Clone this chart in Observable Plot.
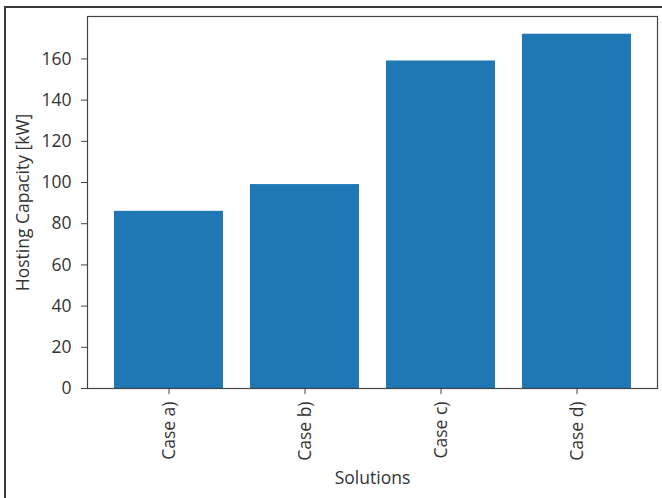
<!DOCTYPE html>
<html>
<head>
<meta charset="utf-8">
<script src="https://cdn.jsdelivr.net/npm/d3@7"></script>
<script src="https://cdn.jsdelivr.net/npm/@observablehq/plot@0.6"></script>
<style>
  html, body { margin: 0; padding: 0; background: #fff; }
  #wrap { position: relative; width: 662px; height: 498px; overflow: hidden; }
  #border { position: absolute; left: 4px; top: 6px; width: 700px; height: 600px;
            border-left: 2px solid #3a3a3a; border-top: 2px solid #3a3a3a; box-sizing: border-box; }
  #chart { position: absolute; left: 0; top: 0; }
</style>
</head>
<body>
<div id="wrap"><div id="chart"></div><div id="border"></div></div>
<script>
const categories = ["Case a)", "Case b)", "Case c)", "Case d)"];
const values = [86, 99, 159, 172];
const yTicks = [0, 20, 40, 60, 80, 100, 120, 140, 160];
const xLabel = ["Solutions"];
const yLabel = ["Hosting Capacity [kW]"];

const data = categories.map((c, i) => ({category: c, value: values[i]}));
const yMax = d3.max(values) * 1.05;

const plot = Plot.plot({
  width: 662,
  height: 498,
  marginLeft: 87,
  marginRight: 5,
  marginTop: 16,
  marginBottom: 110,
  style: {fontFamily: "'Open Sans', sans-serif", fontSize: "17.5px", color: "#333", background: "#fff"},
  x: {domain: categories, paddingInner: 0.2, paddingOuter: 0.19, align: 0.5},
  y: {domain: [0, yMax]},
  marks: [
    Plot.barY(data, {x: "category", y: "value", fill: "#1f77b4"}),
    Plot.frame({stroke: "#444", strokeWidth: 1.2}),
    Plot.axisY({ticks: yTicks, tickSize: 6, tickPadding: 10, label: null, stroke: "#444", fill: "#333"}),
    Plot.axisX({tickRotate: -90, tickSize: 6, tickPadding: 7, label: null, stroke: "#444", fill: "#333"}),
    Plot.text(xLabel, {text: d => d, frameAnchor: "bottom", dy: 90, lineAnchor: "middle", textAnchor: "middle", fill: "#333"}),
    Plot.text(yLabel, {text: d => d, frameAnchor: "left", dx: -64, rotate: -90, lineAnchor: "middle", textAnchor: "middle", fill: "#333"})
  ]
});
document.getElementById("chart").appendChild(plot);
</script>
</body>
</html>
